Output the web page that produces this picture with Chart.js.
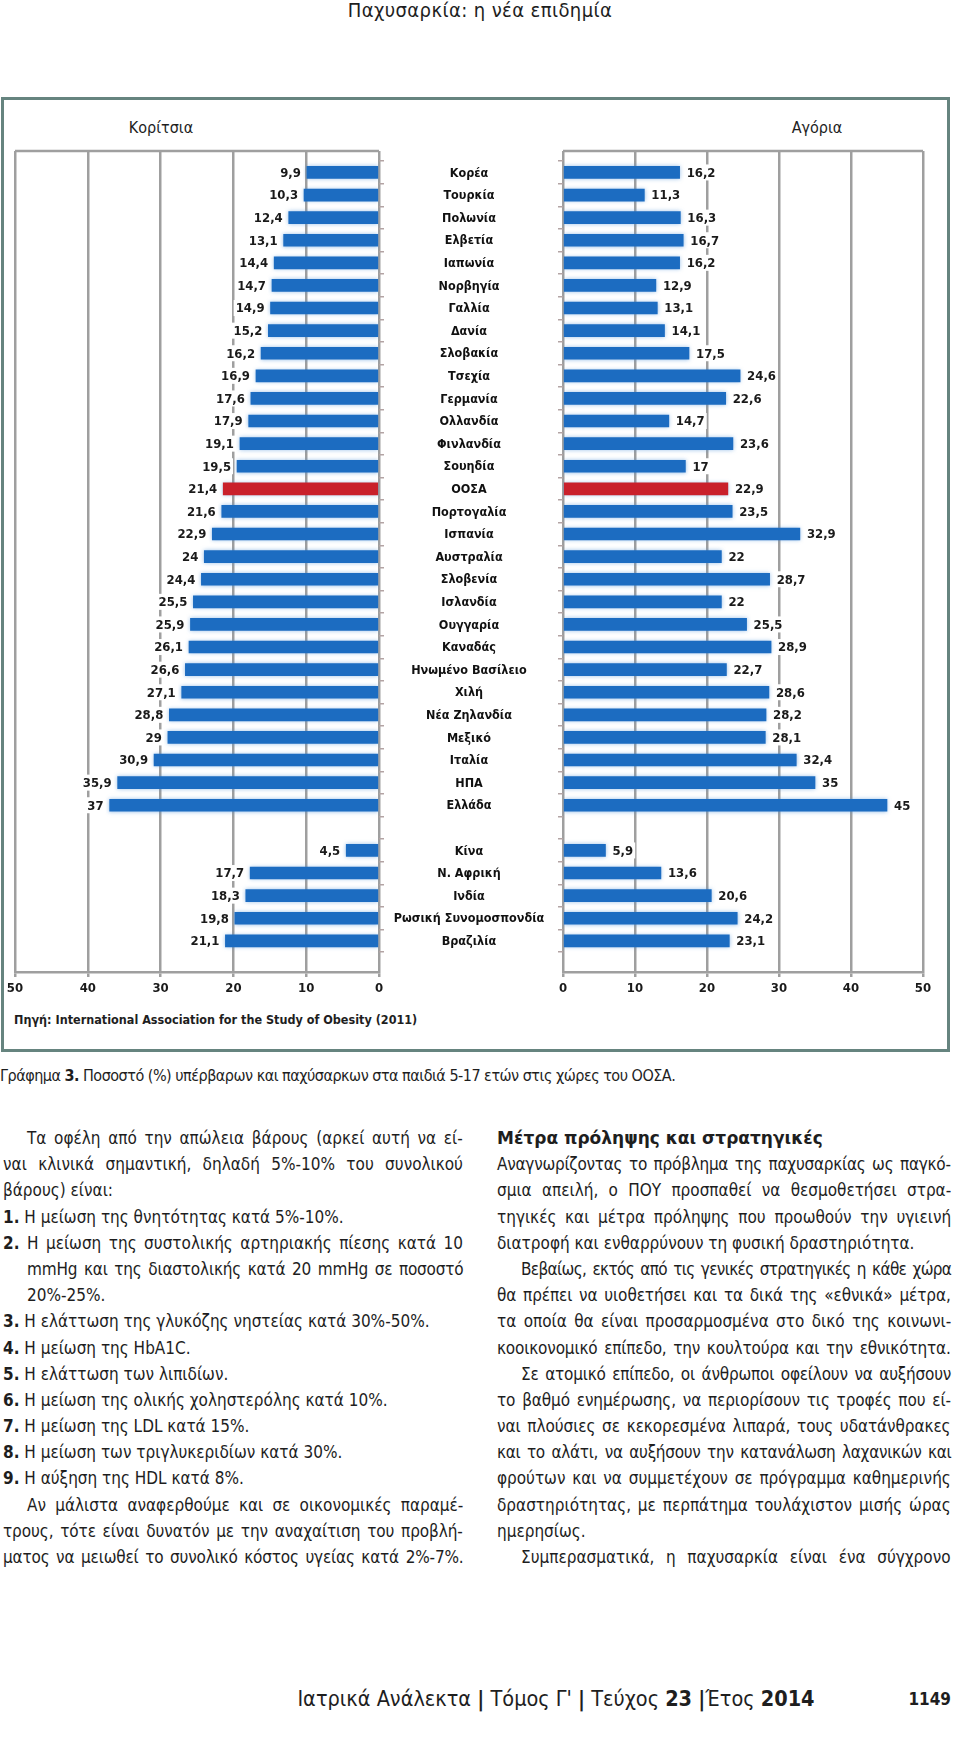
<!DOCTYPE html>
<html lang="el">
<head>
<meta charset="utf-8">
<title>Παχυσαρκία: η νέα επιδημία</title>
<script src="https://cdn.jsdelivr.net/npm/chart.js@4.4.1/dist/chart.umd.min.js"></script>
<style>
    html, body { margin: 0; padding: 0; background: #fff; }
    body {
        position: relative;
        width: 960px;
        height: 1743px;
        overflow: hidden;
        color: #1e1e1e;
        font-family: 'DejaVu Sans Condensed', 'DejaVu Sans', sans-serif;
    }
    .runhead { position: absolute; left: 0; top: -1px; width: 960px; text-align: center; font-size: 20px; line-height: 22px; letter-spacing: 0.4px; }
    .frame { position: absolute; left: 1px; top: 97px; width: 943px; height: 949px; border: 3px solid #66847f; }
    .sex { position: absolute; top: 119px; width: 120px; text-align: center; font-size: 16px; line-height: 18px; }
    canvas { position: absolute; z-index: 1; }
    .source { position: absolute; left: 14px; top: 1012px; font: bold 12.5px 'DejaVu Sans Condensed', 'DejaVu Sans', sans-serif; line-height: 16px; }
    .caption { position: absolute; left: 0; top: 1066px; font-size: 16px; line-height: 20px; letter-spacing: -0.5px; white-space: nowrap; }
    .col { position: absolute; top: 1125px; font-size: 17px; line-height: 26.2px; }
    .col div { white-space: nowrap; height: 26.2px; }
    .col .ind { padding-left: 24px; }
    .col .sub { padding-left: 24px; }
    .col .h { font: bold 17px 'DejaVu Sans', sans-serif; line-height: 26.2px; }
    .foot { position: absolute; top: 1688px; font-size: 21.5px; line-height: 22px; white-space: nowrap; }
</style>
</head>
<body>

<div class="runhead">Παχυσαρκία: η νέα επιδημία</div>

<div class="frame"></div>
<div class="sex" style="left:101px">Κορίτσια</div>
<div class="sex" style="left:757px">Αγόρια</div>

<canvas id="girlsChart" width="390" height="870" style="left:0;top:140px"></canvas>
<canvas id="boysChart" width="565" height="870" style="left:380px;top:140px"></canvas>

<div class="source">Πηγή: International Association for the Study of Obesity (2011)</div>

<div class="caption">Γράφημα <b>3.</b> Ποσοστό (%) υπέρβαρων και παχύσαρκων στα παιδιά 5-17 ετών στις χώρες του ΟΟΣΑ.</div>

<div class="col" style="left:3px;width:460px">
    <div class="j ind">Τα οφέλη από την απώλεια βάρους (αρκεί αυτή να εί-</div>
    <div class="j">ναι κλινικά σημαντική, δηλαδή 5%-10% του συνολικού</div>
    <div>βάρους) είναι:</div>
    <div><b>1.</b> Η μείωση της θνητότητας κατά 5%-10%.</div>
    <div class="j"><b>2.</b> Η μείωση της συστολικής αρτηριακής πίεσης κατά 10</div>
    <div class="j sub">mmHg και της διαστολικής κατά 20 mmHg σε ποσοστό</div>
    <div class="sub">20%-25%.</div>
    <div><b>3.</b> Η ελάττωση της γλυκόζης νηστείας κατά 30%-50%.</div>
    <div><b>4.</b> Η μείωση της HbA1C.</div>
    <div><b>5.</b> Η ελάττωση των λιπιδίων.</div>
    <div><b>6.</b> Η μείωση της ολικής χοληστερόλης κατά 10%.</div>
    <div><b>7.</b> Η μείωση της LDL κατά 15%.</div>
    <div><b>8.</b> Η μείωση των τριγλυκεριδίων κατά 30%.</div>
    <div><b>9.</b> Η αύξηση της HDL κατά 8%.</div>
    <div class="j ind">Αν μάλιστα αναφερθούμε και σε οικονομικές παραμέ-</div>
    <div class="j">τρους, τότε είναι δυνατόν με την αναχαίτιση του προβλή-</div>
    <div class="j">ματος να μειωθεί το συνολικό κόστος υγείας κατά 2%-7%.</div>
</div>

<div class="col" style="left:497px;width:454px">
    <div class="h">Μέτρα πρόληψης και στρατηγικές</div>
    <div class="j">Αναγνωρίζοντας το πρόβλημα της παχυσαρκίας ως παγκό-</div>
    <div class="j">σμια απειλή, ο ΠΟΥ προσπαθεί να θεσμοθετήσει στρα-</div>
    <div class="j">τηγικές και μέτρα πρόληψης που προωθούν την υγιεινή</div>
    <div>διατροφή και ενθαρρύνουν τη φυσική δραστηριότητα.</div>
    <div class="j ind">Βεβαίως, εκτός από τις γενικές στρατηγικές η κάθε χώρα</div>
    <div class="j">θα πρέπει να υιοθετήσει και τα δικά της «εθνικά» μέτρα,</div>
    <div class="j">τα οποία θα είναι προσαρμοσμένα στο δικό της κοινωνι-</div>
    <div class="j">κοοικονομικό επίπεδο, την κουλτούρα και την εθνικότητα.</div>
    <div class="j ind">Σε ατομικό επίπεδο, οι άνθρωποι οφείλουν να αυξήσουν</div>
    <div class="j">το βαθμό ενημέρωσης, να περιορίσουν τις τροφές που εί-</div>
    <div class="j">ναι πλούσιες σε κεκορεσμένα λιπαρά, τους υδατάνθρακες</div>
    <div class="j">και το αλάτι, να αυξήσουν την κατανάλωση λαχανικών και</div>
    <div class="j">φρούτων και να συμμετέχουν σε πρόγραμμα καθημερινής</div>
    <div class="j">δραστηριότητας, με περπάτημα τουλάχιστον μισής ώρας</div>
    <div>ημερησίως.</div>
    <div class="j ind">Συμπερασματικά, η παχυσαρκία είναι ένα σύγχρονο</div>
</div>

<div class="foot" style="left:256px;width:600px;text-align:center">Ιατρικά Ανάλεκτα <b>|</b> Τόμος Γ' <b>|</b> Τεύχος <b>23</b> <b>|</b>Έτος <b>2014</b></div>
<div class="foot" style="left:851px;width:100px;text-align:right;font-size:17px"><b>1149</b></div>

<script>
// Χώρες ΟΟΣΑ (με τη σειρά του γραφήματος)
const oecdCountries = ['Κορέα', 'Τουρκία', 'Πολωνία', 'Ελβετία', 'Ιαπωνία', 'Νορβηγία', 'Γαλλία', 'Δανία',
    'Σλοβακία', 'Τσεχία', 'Γερμανία', 'Ολλανδία', 'Φινλανδία', 'Σουηδία', 'ΟΟΣΑ', 'Πορτογαλία', 'Ισπανία',
    'Αυστραλία', 'Σλοβενία', 'Ισλανδία', 'Ουγγαρία', 'Καναδάς', 'Ηνωμένο Βασίλειο', 'Χιλή', 'Νέα Ζηλανδία',
    'Μεξικό', 'Ιταλία', 'ΗΠΑ', 'Ελλάδα'];
const girlsOecd = [9.9, 10.3, 12.4, 13.1, 14.4, 14.7, 14.9, 15.2, 16.2, 16.9, 17.6, 17.9, 19.1, 19.5, 21.4,
    21.6, 22.9, 24, 24.4, 25.5, 25.9, 26.1, 26.6, 27.1, 28.8, 29, 30.9, 35.9, 37];
const boysOecd = [16.2, 11.3, 16.3, 16.7, 16.2, 12.9, 13.1, 14.1, 17.5, 24.6, 22.6, 14.7, 23.6, 17, 22.9,
    23.5, 32.9, 22, 28.7, 22, 25.5, 28.9, 22.7, 28.6, 28.2, 28.1, 32.4, 35, 45];

// Χώρες εκτός ΟΟΣΑ
const otherCountries = ['Κίνα', 'Ν. Αφρική', 'Ινδία', 'Ρωσική Συνομοσπονδία', 'Βραζιλία'];
const girlsOther = [4.5, 17.7, 18.3, 19.8, 21.1];
const boysOther = [5.9, 13.6, 20.6, 24.2, 23.1];

const xTicks = [0, 10, 20, 30, 40, 50];
const highlight = 'ΟΟΣΑ';

// one empty row separates the two groups
const labels = [...oecdCountries, '', ...otherCountries];
const girls = [...girlsOecd, null, ...girlsOther];
const boys = [...boysOecd, null, ...boysOther];

const BLUE = '#1c6cc1';
const RED = '#c9202b';
const GRID = '#9f9f9f';
const chartFont = "'DejaVu Sans Condensed', 'DejaVu Sans', sans-serif";

function toPoints(values) {
    const pts = [];
    values.forEach((v, i) => {
        if (v !== null) pts.push({ x: v, y: i, name: labels[i] });
    });
    return pts;
}

// soft halo round the bars, like the Excel shadow
const barGlow = {
    id: 'barGlow',
    beforeDatasetsDraw(chart) {
        const ctx = chart.ctx;
        ctx.save();
        ctx.shadowColor = 'rgba(70, 140, 215, 0.55)';
        ctx.shadowBlur = 4;
    },
    afterDatasetsDraw(chart) {
        chart.ctx.restore();
    }
};

// numbers at the end of each bar, on a white box
const valueLabels = {
    id: 'valueLabels',
    afterDatasetsDraw(chart, args, opts) {
        const ctx = chart.ctx;
        const meta = chart.getDatasetMeta(0);
        const pts = chart.data.datasets[0].data;
        const left = opts.side === 'left';
        ctx.save();
        ctx.font = 'bold 13px ' + chartFont;
        ctx.textBaseline = 'middle';
        ctx.textAlign = left ? 'right' : 'left';
        meta.data.forEach((bar, i) => {
            const txt = String(pts[i].x).replace('.', ',');
            const w = ctx.measureText(txt).width;
            const x = left ? bar.x - 6 : bar.x + 7;
            const bx = left ? x - w - 2 : x - 2;
            ctx.fillStyle = '#fff';
            ctx.fillRect(bx, bar.y - 8, w + 4, 16);
            ctx.fillStyle = '#1a1a1a';
            ctx.fillText(txt, x, bar.y + 1);
        });
        ctx.restore();
    }
};

// top edge of the plot box
const topBorder = {
    id: 'topBorder',
    beforeDatasetsDraw(chart) {
        const { ctx, chartArea } = chart;
        ctx.save();
        ctx.strokeStyle = GRID;
        ctx.lineWidth = 2.5;
        ctx.beginPath();
        ctx.moveTo(chartArea.left, chartArea.top);
        ctx.lineTo(chartArea.right, chartArea.top);
        ctx.stroke();
        ctx.restore();
    }
};

// country names, centred in the middle column
const countryNames = {
    id: 'countryNames',
    afterDraw(chart) {
        const { ctx, chartArea } = chart;
        const y = chart.scales.y;
        const cx = chartArea.left - 94;
        ctx.save();
        ctx.font = 'bold 12.5px ' + chartFont;
        ctx.fillStyle = '#111';
        ctx.textAlign = 'center';
        ctx.textBaseline = 'middle';
        labels.forEach((name, i) => {
            if (name) ctx.fillText(name, cx, y.getPixelForValue(i) + 1);
        });
        ctx.restore();
    }
};

function makeChart(id, values, side) {
    const pts = toPoints(values);
    const isLeft = side === 'left';
    return new Chart(document.getElementById(id), {
        type: 'bar',
        data: {
            datasets: [{
                data: pts,
                backgroundColor: pts.map(p => p.name === highlight ? RED : BLUE),
                barThickness: 12,
                borderWidth: 0
            }]
        },
        plugins: [topBorder, barGlow, valueLabels].concat(isLeft ? [] : [countryNames]),
        options: {
            indexAxis: 'y',
            responsive: false,
            animation: false,
            layout: {
                padding: isLeft ? { left: 15, top: 11, right: 0, bottom: 0 } : { left: 0, top: 11, right: 22, bottom: 0 }
            },
            plugins: {
                legend: { display: false },
                tooltip: { enabled: false },
                valueLabels: { side: side }
            },
            scales: {
                x: {
                    type: 'linear',
                    min: 0,
                    max: 50,
                    reverse: isLeft,
                    afterBuildTicks: s => { s.ticks = xTicks.map(v => ({ value: v })); },
                    ticks: {
                        color: '#1a1a1a',
                        padding: 4,
                        font: { family: chartFont, size: 13, weight: 'bold' }
                    },
                    grid: { color: GRID, lineWidth: 2.5, tickLength: 5 },
                    border: { color: GRID, width: 2.5 },
                    afterFit: s => { s.height = 38; s.paddingLeft = 0; s.paddingRight = 0; }
                },
                y: {
                    type: 'linear',
                    min: -0.43,
                    max: 34.86,
                    reverse: true,
                    position: isLeft ? 'right' : 'left',
                    afterBuildTicks: s => { s.ticks = labels.map((l, i) => ({ value: i })); },
                    ticks: { display: false },
                    grid: { offset: true, drawOnChartArea: false, tickLength: 5, color: '#b3a4a4', lineWidth: 1.5 },
                    border: { display: false },
                    afterFit: s => { s.width = isLeft ? 11 : 183; s.paddingTop = 0; s.paddingBottom = 0; }
                }
            }
        }
    });
}

makeChart('girlsChart', girls, 'left');
makeChart('boysChart', boys, 'right');

// justify the full lines of the two text columns without letting them wrap
document.querySelectorAll('.col .j').forEach(line => {
    line.innerHTML = '<span>' + line.innerHTML + '</span>';
    const span = line.firstElementChild;
    const pad = parseFloat(getComputedStyle(line).paddingLeft) || 0;
    const avail = line.clientWidth - pad;
    const text = line.textContent;
    const gaps = (text.match(/ /g) || []).length;
    let extra = avail - span.offsetWidth;
    if (extra < gaps * 2) {
        // too long: tighten the letters a little, keep a normal gap between words
        const ls = (extra - gaps * 2) / text.length;
        line.style.letterSpacing = ls + 'px';
        extra = avail - span.offsetWidth;
    }
    if (gaps) line.style.wordSpacing = (extra / gaps) + 'px';
});
</script>
</body>
</html>
